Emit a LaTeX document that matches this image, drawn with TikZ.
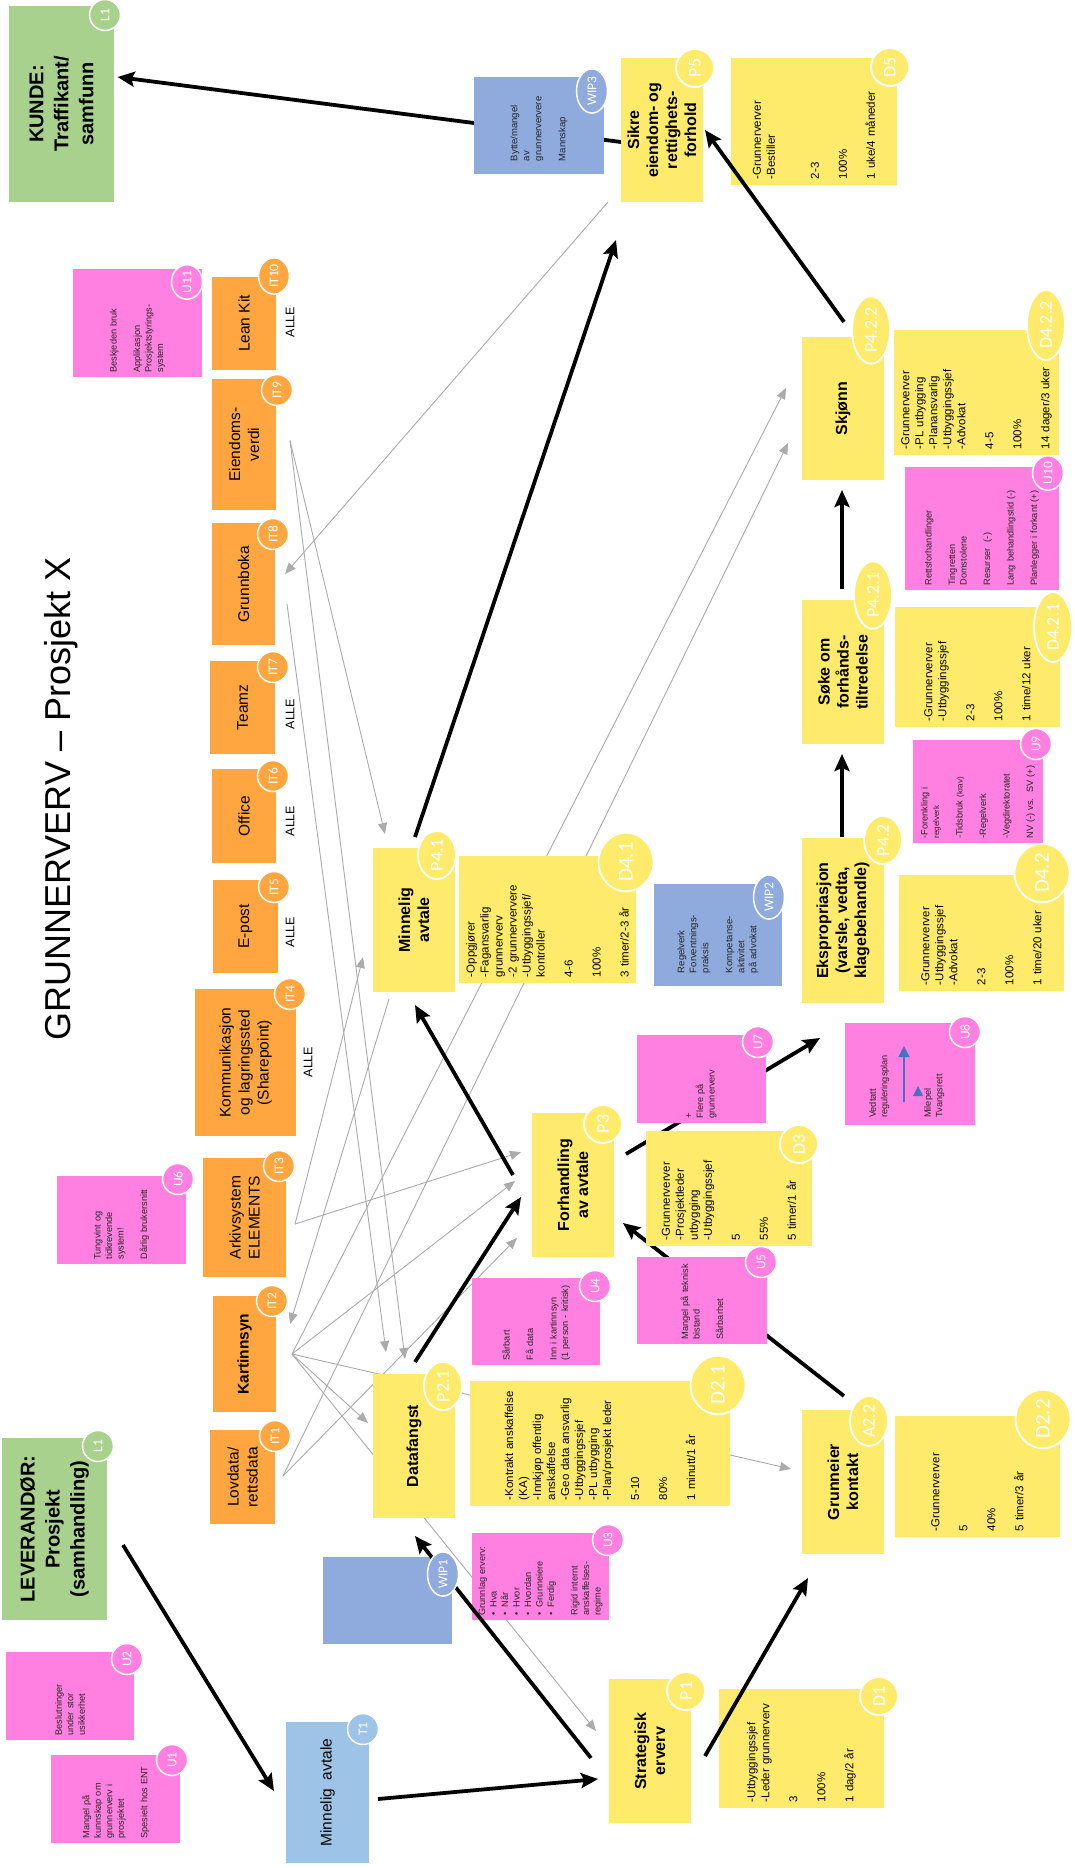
\documentclass[tikz,border=0pt]{standalone}
\usepackage{fontspec}
\setmainfont{Liberation Sans}
\newfontfamily\tagfont{Carlito}
\usetikzlibrary{arrows.meta,calc,shapes.geometric}

\definecolor{pyel}{HTML}{FFEB6B}
\definecolor{upink}{HTML}{FF80E0}
\definecolor{itorg}{HTML}{FFA640}
\definecolor{lgreen}{HTML}{A9D18E}
\definecolor{wipblue}{HTML}{8FAADC}
\definecolor{tblue}{HTML}{9DC3E6}
\definecolor{mblue}{HTML}{4472C4}

\pgfdeclarelayer{bg}
\pgfsetlayers{bg,main}

\tikzset{
  box/.style={rotate=90, inner sep=0pt, align=center},
  pbox/.style={box, fill=pyel, minimum width=144, minimum height=82,
    font=\fontsize{16}{19}\selectfont\bfseries},
  dbox/.style 2 args={box, fill=pyel, minimum width=#1, minimum height=#2,
    text width=#1-12, align=left, font=\fontsize{11.5}{14}\selectfont},
  ubox/.style 2 args={box, fill=upink, minimum width=#1, minimum height=#2,
    text width=#1-9, align=left, text=black!85, font=\fontsize{9.2}{11.5}\selectfont},
  wbox/.style 2 args={box, fill=wipblue, minimum width=#1, minimum height=#2,
    text width=#1-26, align=left, text=black!85, font=\fontsize{9.5}{12}\selectfont},
  itbox/.style 2 args={box, fill=itorg, minimum width=#1, minimum height=#2,
    font=\fontsize{15.5}{19}\selectfont},
  lbox/.style={box, fill=lgreen, minimum width=#1, minimum height=105,
    font=\fontsize{20}{25}\selectfont\bfseries},
  tag/.style={ellipse, rotate=90, fill=#1, draw=white, line width=1.8pt,
    text=white, inner sep=1pt, minimum width=38, minimum height=38,
    font=\tagfont\fontsize{18}{18}\selectfont},
  bigtag/.style={tag=#1, minimum width=55, minimum height=55,
    font=\tagfont\fontsize{21}{21}\selectfont},
  smalltag/.style={tag=#1, minimum width=31, minimum height=31, line width=1.5pt,
    font=\tagfont\fontsize{13.5}{13.5}\selectfont},
  flow/.style={line width=3.8pt, -{Stealth[length=17pt,width=15pt,inset=3pt]}},
  info/.style={draw=black!33, line width=0.9pt, -{Triangle[length=11pt,width=9pt]}},
  alle/.style={rotate=90, inner sep=0pt, font=\fontsize{12.5}{14}\selectfont},
}

\begin{document}
\begin{tikzpicture}[x=1pt, y=-1pt]
    \useasboundingbox (0,0) rectangle (1074,1868);

    \node[rotate=90, anchor=base, font=\fontsize{36}{40}\selectfont] (title) at (70,799)
        {GRUNNERVERV -- Prosjekt X};

    % kunde og leverandoer
    \node[lbox=196] (kunde) at (61.5,104) {KUNDE:\\Traffikant/\\samfunn};
    \node[lbox=182] (lev) at (54.5,1529) {LEVERANDØR:\\Prosjekt\\(samhandling)};

    % IT-systemer
    \node[itbox={93}{64}] (it10) at (244,323.5) {Lean Kit};
    \node[itbox={131}{64}] (it9) at (244,444.5) {Eiendoms-\\verdi};
    \node[itbox={122}{63}] (it8) at (243.5,584) {Grunnboka};
    \node[itbox={93}{65}] (it7) at (242.5,707.5) {Teamz};
    \node[itbox={94}{64}] (it6) at (244,816) {Office};
    \node[itbox={93}{65}] (it5) at (245.5,926.5) {E-post};
    \node[itbox={147}{101}] (it4) at (245.5,1062.5) {Kommunikasjon\\og lagringssted\\(Sharepoint)};
    \node[itbox={119}{83}] (it3) at (244.5,1217.5) {Arkivsystem\\ELEMENTS};
    \node[itbox={116}{63}, font=\fontsize{15.5}{19}\selectfont\bfseries] (it2) at (244.5,1354) {Kartinnsyn};
    \node[itbox={94}{65}] (it1) at (242.5,1477) {Lovdata/\\rettsdata};

    \foreach \n/\dx/\dy in {10/46/-1.5, 7/47.5/6.5, 6/46/5, 5/44.5/5.5, 4/62.5/-0.5}
        \node[alle] (alle\n) at ($(it\n)+(\dx,\dy)$) {ALLE};

    % prosesser
    \node[pbox] (p5) at (662,130) {Sikre\\eiendom- og\\rettighets-\\forhold};
    \node[pbox] (p41) at (414,920) {Minnelig\\avtale};
    \node[pbox] (p3) at (573,1185) {Forhandling\\av avtale};
    \node[pbox] (p21) at (414,1446) {Datafangst};
    \node[pbox] (p1) at (650,1751) {Strategisk\\erverv};
    \node[pbox] (a22) at (843,1482) {Grunneier\\kontakt};
    \node[pbox, minimum width=165] (p42) at (843,920.5) {Ekspropriasjon\\(varsle, vedta,\\klagebehandle)};
    \node[pbox] (p421) at (843,672) {Søke om\\forhånds-\\tiltredelse};
    \node[pbox, minimum width=143] (p422) at (843,408.5) {Skjønn};
    \node[box, fill=tblue, minimum width=141, minimum height=83,
        font=\fontsize{15.5}{19}\selectfont] (t1) at (327.5,1792.5) {Minnelig\ \ avtale};

    % data
    \node[dbox={127}{166}] (d5) at (814,121.5)
        {-Grunnerverver\\-Bestiller\\[30pt]2-3\\[14pt]100\%\\[14pt]1 uke/4 måneder};
    \node[dbox={125}{165}] (d422) at (976.5,392.5)
        {-Grunnerverver\\-PL utbygging\\-Planansvarlig\\-Utbyggingssjef\\-Advokat\\[14pt]4-5\\[14pt]100\%\\[14pt]14 dager/3 uker};
    \node[dbox={120}{165}] (d421) at (977.5,667)
        {-Grunnerverver\\-Utbyggingssjef\\[14pt]2-3\\[14pt]100\%\\[14pt]1 time/12 uker};
    \node[dbox={116}{165}] (d42) at (981.5,933)
        {-Grunnerverver\\-Utbyggingssjef\\-Advokat\\[14pt]2-3\\[14pt]100\%\\[14pt]1 time/20 uker};
    \node[dbox={127}{177}] (d41) at (547.5,919.5)
        {-Oppgjører\\-Fagansvarlig\\grunnerverv\\-2 grunnerververe\\-Utbyggingssjef/\\kontroller\\[14pt]4-6\\[14pt]100\%\\[14pt]3 timer/2-3 år};
    \node[dbox={115}{166}] (d3) at (729,1188.5)
        {-Grunnerverver\\-Prosjektleder\\utbygging\\-Utbyggingssjef\\[14pt]5\\[14pt]55\%\\[14pt]5 timer/1 år};
    \node[dbox={125}{260}] (d21) at (600,1443.5)
        {-Kontrakt anskaffelse\\(KA)\\-Innkjøp offentlig\\anskaffelse\\-Geo data ansvarlig\\-Utbyggingssjef\\-PL utbygging\\-Plan/prosjekt leder\\[14pt]5-10\\[14pt]80\%\\[14pt]1 minutt/1 år};
    \node[dbox={121}{165}] (d22) at (977.5,1476.5)
        {-Grunnerverver\\[14pt]5\\[14pt]40\%\\[14pt]5 timer/3 år};
    \node[dbox={119}{165}] (d1) at (801.5,1748.5)
        {-Utbyggingssjef\\-Leder grunnerverv\\[14pt]3\\[14pt]100\%\\[14pt]1 dag/2 år};

    % work in progress
    \node[wbox={97}{130}] (wip3) at (539,125.5)
        {Bytte/mangel\\av\\grunnerververe\\[12pt]Mannskap};
    \node[wbox={102}{128}] (wip2) at (718,935)
        {Regelverk\\Forventnings-\\praksis\\[12pt]Kompetanse-\\aktivitet\\på advokat};
    \node[wbox={87}{129}] (wip1) at (387.5,1600.5) {};

    % utfordringer
    \node[ubox={108}{129}] (u11) at (137.5,323)
        {Beskjeden bruk\\[12pt]Applikasjon\\Prosjektstyrings-\\system};
    \node[ubox={88}{129}] (u6) at (121.5,1220)
        {Tungvint og\\tidkrevende\\system!\\[12pt]Dårlig brukersnitt};
    \node[ubox={88}{128}] (u2) at (70,1696) {Beslutninger\\under stor\\usikkerhet};
    \node[ubox={88}{129}] (u1) at (115.5,1799)
        {Mangel på\\kunnskap om\\grunnerverv i\\prosjektet\\[12pt]Spesielt hos ENT};
    \node[ubox={87}{137}] (u3) at (540.5,1576.5)
        {Grunnlag erverv:\\•\hspace{5pt}Hva\\•\hspace{5pt}Når\\•\hspace{5pt}Hvor\\•\hspace{5pt}Hvordan\\•\hspace{5pt}Grunneiere\\•\hspace{5pt}Ferdig\\[12pt]Rigid internt\\anskaffelses-\\regime};
    \node[ubox={87}{128}] (u4) at (536,1321.5)
        {Sårbart\\[12pt]Få data\\[12pt]Inn i kartinnsyn\\(1 person - kritisk)};
    \node[ubox={102}{130}] (u8) at (910,1074) {};
    \node[ubox={123}{154}] (u10) at (982,528.5)
        {Rettsforhandlinger\\[12pt]Tingretten\\Domstolene\\[12pt]Resurser\ \ (-)\\[12pt]Lang behandlingstid (-)\\[12pt]Planlegger i forkant (+)};
    \node[ubox={103}{130}] (u9) at (978,791.5)
        {-Forenkling i\\{\fontsize{8}{9}\selectfont regelverk}\\[12pt]-Tidsbruk {\fontsize{8}{9}\selectfont(krav)}\\[12pt]-Regelverk\\[12pt]-Vegdirektoratet\\[12pt]NV (-) vs.\ \ SV (+)};

    \node[rotate=90, anchor=north west, align=left, inner sep=0pt, text=black!85,
        font=\fontsize{9.2}{11.5}\selectfont] (u8a) at ($(u8)+(-41,44)$) {Vedtatt\\reguleringsplan};
    \node[rotate=90, anchor=north west, align=left, inner sep=0pt, text=black!85,
        font=\fontsize{9.2}{11.5}\selectfont] (u8b) at ($(u8)+(14,44)$) {Milepel\\Tvangsrett};
    \draw[mblue, line width=1.5pt, -{Triangle[length=11pt,width=11pt]}]
        ($(u8)+(-6,28)$) -- ($(u8)+(-6,-28)$);
    \fill[mblue] ($(u8)+(8,12)$) -- ($(u8)+(3,22)$) -- ($(u8)+(13,22)$) -- cycle;

    % hovedflyt
    \draw[flow] ($(lev)+(68.5,16)$) -- ($(t1)+(-53.5,-1.5)$);
    \draw[flow] ($(t1)+(50.5,6.5)$) -- ($(p1)+(-52,28)$);
    \draw[flow] ($(p1)+(-59,7)$) -- ($(p21)+(1,90)$);
    \draw[flow] ($(p1)+(55,5)$) -- ($(a22)+(-35,96)$);
    \draw[flow] ($(p21)+(1,-84)$) -- ($(p3)+(-52,12)$);
    \draw[flow] ($(p3)+(-60,-10)$) -- ($(p41)+(1,85)$);
    \draw[flow] ($(p41)+(1,-83)$) -- ($(p5)+(-46,110)$);
    \draw[flow] ($(p42)+(-1,-83.5)$) -- ($(p421)+(-1,82)$);
    \draw[flow] ($(p421)+(-1,-83)$) -- ($(p422)+(-1,81.5)$);
    \draw[flow] ($(p422)+(1,-86.5)$) -- ($(p5)+(43,0)$);

    % lapper som ligger over pilene
    \node[ubox={87}{130}] (u5) at (702,1300.5)
        {Mangel på teknisk\\bistand\\[12pt]Sårbarhet};
    \node[ubox={88}{129}] (u7) at (701.5,1079) {+\\Flere på\\grunnerverv};

    % merkelapper
    \node[smalltag=lgreen] (kunde-tag) at (105,15) {L1};
    \node[smalltag=lgreen] (lev-tag) at (98,1446) {L1};
    \node[smalltag=tblue] (t1-tag) at (363,1729) {T1};
    \foreach \n/\x/\y in {10/274/276, 9/277/390, 8/273/534, 7/273/667, 6/273/776,
                          5/274/887, 4/290/994, 3/279/1166, 2/272/1301, 1/275/1436}
        \node[smalltag=itorg] (it\n-tag) at (\x,\y) {IT\n};
    \foreach \n/\t/\x/\y in {p5/P5/695/68, p41/P4.1/437/855, p3/P3/603/1124,
                             p21/P2.1/443/1386, p1/P1/686/1691, a22/A2.2/869/1421,
                             p42/P4.2/883/840, p421/P4.2.1/873/595, p422/P4.2.2/871/330,
                             d5/D5/890/67, d422/D4.2.2/1046/325, d421/D4.2.1/1053/627,
                             d3/D3/799/1144, d1/D1/879/1696}
        \node[tag=pyel] (\n-tag) at (\x,\y) {\t};
    \foreach \n/\t/\x/\y in {d42/D4.2/1042/873, d41/D4.1/626/862,
                             d21/D2.1/718/1385, d22/D2.2/1043/1419}
        \node[bigtag=pyel] (\n-tag) at (\x,\y) {\t};
    \foreach \n/\t/\x/\y in {u11/U11/187/282, u6/U6/178/1179, u2/U2/127/1659,
                             u1/U1/172/1760, u3/U3/608/1540, u4/U4/595/1286,
                             u5/U5/761/1262, u7/U7/758/1042, u8/U8/965/1032,
                             u9/U9/1036/744, u10/U10/1048/473}
        \node[smalltag=upink] (\n-tag) at (\x,\y) {\t};
    \foreach \n/\t/\x/\y in {wip3/WIP3/592/91, wip2/WIP2/769/897, wip1/WIP1/443/1574}
        \node[smalltag=wipblue] (\n-tag) at (\x,\y) {\t};

    \begin{pgfonlayer}{bg}
        \fill[white] (0,0) rectangle (1074,1868);

        % informasjonsflyt
        \coordinate (it9o) at ($(it9)+(46,-4)$);
        \coordinate (it8o) at ($(it8)+(43.5,20)$);
        \coordinate (it3o) at ($(it3)+(50.5,6.5)$);
        \coordinate (it2o) at ($(it2)+(47.5,0)$);
        \coordinate (it1o) at ($(it1)+(40.5,-1)$);
        \draw[info] (it9o) -- ($(p41)+(-29,-86)$);
        \draw[info] (it9o) -- ($(p21)+(-9,-87)$);
        \draw[info] (it8o) -- ($(p21)+(-28,-94)$);
        \draw[info] ($(p5)+(-54,72)$) -- ($(it8)+(41.5,-10)$);
        \draw[info] (it3o) -- ($(p41)+(-51,37)$);
        \draw[info] (it3o) -- ($(p3)+(-52,-33)$);
        \draw[info] (it2o) -- ($(p3)+(-58,-4)$);
        \draw[info] (it2o) -- ($(p21)+(-46,-23)$);
        \draw[info] (it2o) -- ($(p1)+(-54,-20)$);
        \draw[info] (it2o) -- ($(a22)+(-52,-13)$);
        \draw[info] (it2o) -- ($(p422)+(-57,-20.5)$);
        \draw[info] (it1o) -- ($(p422)+(-55,34.5)$);
        \draw[info] (it1o) -- ($(p3)+(-56,53)$);
        \draw[info] ($(p41)+(-25,79)$) -- ($(it2)+(45.5,-30)$);

        % piler som ligger bak lappene
        \draw[flow] ($(p5)+(-41,12)$) -- ($(kunde)+(56,-27)$);
        \draw[flow] ($(p3)+(53,-31)$) -- ($(p42)+(-23,117.5)$);
        \draw[flow] ($(a22)+(1,-86)$) -- ($(p3)+(50,38)$);
    \end{pgfonlayer}
\end{tikzpicture}
\end{document}
